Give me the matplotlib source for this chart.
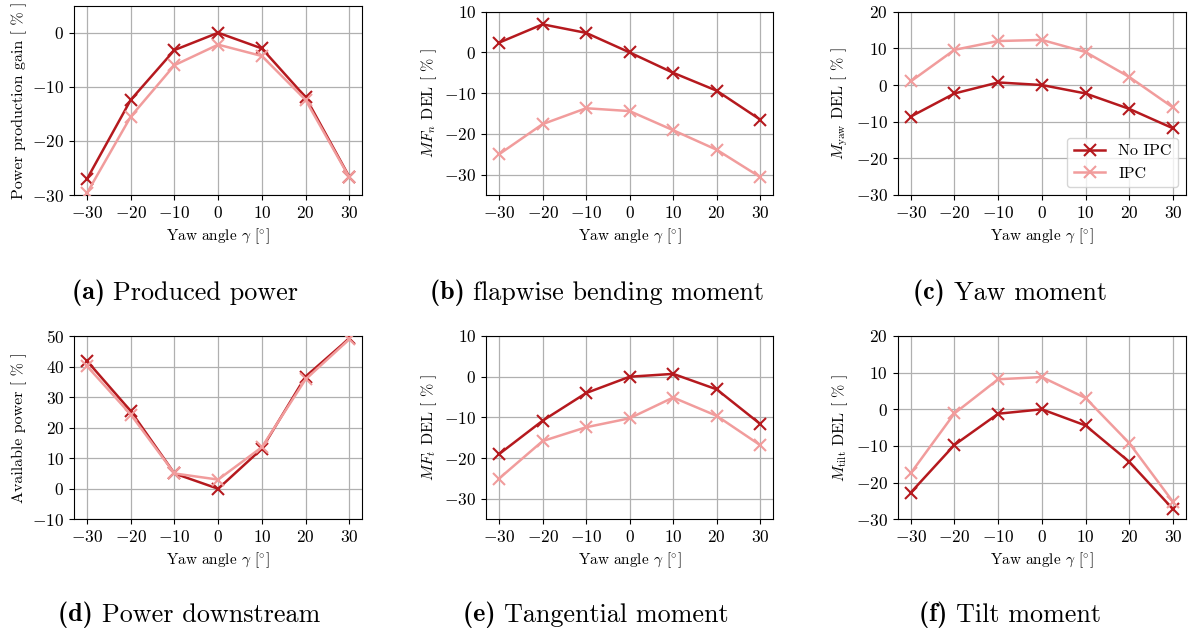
import matplotlib
matplotlib.use("Agg")
import matplotlib.pyplot as plt

plt.rcParams['font.family'] = 'serif'
plt.rcParams['font.serif'] = ['cmr10']
plt.rcParams['mathtext.fontset'] = 'cm'
plt.rcParams['axes.formatter.use_mathtext'] = True
plt.rcParams['axes.unicode_minus'] = True

yaw = [-30, -20, -10, 0, 10, 20, 30]

power_noipc = [-27.0, -12.4, -3.2, 0.0, -2.9, -11.9, -26.6]
power_ipc = [-29.6, -15.5, -6.0, -2.2, -4.3, -12.4, -26.7]

mfn_noipc = [2.4, 6.9, 4.8, 0.0, -5.0, -9.4, -16.5]
mfn_ipc = [-25.0, -17.6, -13.7, -14.4, -19.1, -23.9, -30.6]

myaw_noipc = [-8.6, -2.3, 0.7, 0.0, -2.3, -6.5, -11.8]
myaw_ipc = [1.0, 9.6, 12.0, 12.3, 9.0, 2.2, -6.1]

avail_noipc = [41.8, 25.4, 5.0, 0.0, 13.1, 36.7, 49.2]
avail_ipc = [40.1, 24.3, 5.0, 3.0, 13.6, 35.8, 48.9]

mft_noipc = [-19.0, -10.8, -4.0, 0.0, 0.7, -3.1, -11.6]
mft_ipc = [-25.0, -15.8, -12.4, -10.2, -5.1, -9.6, -16.8]

mtilt_noipc = [-22.7, -9.7, -1.2, 0.0, -4.4, -14.3, -27.2]
mtilt_ipc = [-17.4, -1.1, 8.2, 8.8, 3.1, -9.2, -25.2]

ylabels = ["Power production gain [ % ]", r"$MF_n$ DEL [ % ]", r"$M_{\mathrm{yaw}}$ DEL [ % ]",
           "Available power [ % ]", r"$MF_t$ DEL [ % ]", r"$M_{\mathrm{tilt}}$ DEL [ % ]"]
cap_tags = ["(a)", "(b)", "(c)", "(d)", "(e)", "(f)"]
cap_texts = ["Produced power", "flapwise bending moment", "Yaw moment",
             "Power downstream", "Tangential moment", "Tilt moment"]
ylims = [(-30, 5), (-35, 10), (-30, 20), (-10, 50), (-35, 10), (-30, 20)]
ysteps = [10, 10, 10, 10, 10, 10]
series = [(power_noipc, power_ipc), (mfn_noipc, mfn_ipc), (myaw_noipc, myaw_ipc),
          (avail_noipc, avail_ipc), (mft_noipc, mft_ipc), (mtilt_noipc, mtilt_ipc)]

W, H = 1192, 637
fig = plt.figure(figsize=(W / 100, H / 100), dpi=100)

# pixel boxes: left, right, top, bottom
boxes = [(74, 362.3, 5.7, 195), (486, 773.3, 11.7, 195), (897.7, 1186, 11.7, 195),
         (74, 362.3, 336, 519.3), (486, 773.3, 336, 519.3), (897.7, 1186, 336, 519.3)]
cap_x = [185, 597, 1010, 189, 596, 1010]
cap_y = [293, 293, 293, 615, 615, 615]

c_dark = '#b5191e'
c_light = '#f19c9c'

renderer = fig.canvas.get_renderer()
cap_fs = 18.8

for i, (l, r, t, b) in enumerate(boxes):
    ax = fig.add_axes([l / W, 1 - b / H, (r - l) / W, (b - t) / H])
    s1, s2 = series[i]
    ax.plot(yaw, s1, color=c_dark, marker='x', lw=1.8, ms=8, mew=1.5, label='No IPC', zorder=3)
    ax.plot(yaw, s2, color=c_light, marker='x', lw=1.8, ms=8, mew=1.5, label='IPC', zorder=3)
    lo, hi = ylims[i]
    ax.set_ylim(lo, hi)
    start = lo if lo % ysteps[i] == 0 else lo + (ysteps[i] - lo % ysteps[i])
    ax.set_yticks(list(range(int(start), int(hi) + 1, ysteps[i])))
    ax.set_xticks(yaw)
    ax.grid(True, color='#b0b0b0', lw=0.9)
    ax.set_axisbelow(True)
    ax.tick_params(labelsize=12.5)
    ax.set_xlabel(r"Yaw angle $\gamma$ [$^{\circ}$]", fontsize=11)
    ax.set_ylabel(ylabels[i], fontsize=11.5)
    if i == 2:
        ax.legend(loc='lower right', fontsize=11.5)

    # caption: bold tag + regular text, centered as a whole
    t1 = fig.text(0, 0, cap_tags[i] + " ", family='cmb10', fontsize=cap_fs, va='center')
    t2 = fig.text(0, 0, cap_texts[i], fontsize=cap_fs, va='center')
    w1 = t1.get_window_extent(renderer).width
    w2 = t2.get_window_extent(renderer).width
    x0 = cap_x[i] - (w1 + w2) / 2
    yc = 1 - cap_y[i] / H
    t1.set_position((x0 / W, yc))
    t2.set_position(((x0 + w1) / W, yc))

fig.savefig("out.png", dpi=100)
